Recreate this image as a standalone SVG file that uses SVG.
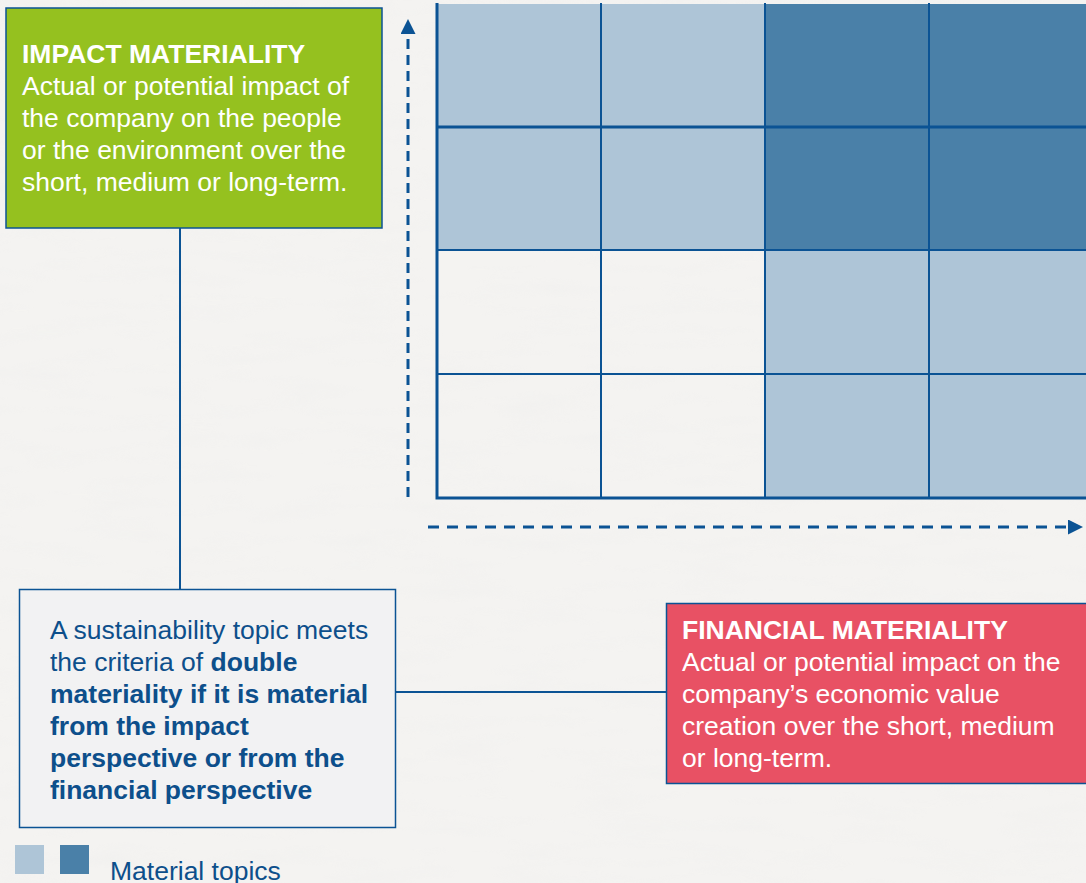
<svg xmlns="http://www.w3.org/2000/svg" width="1086" height="883" viewBox="0 0 1086 883">
<defs>
<style>
.t{font-family:"Liberation Sans",Arial,sans-serif;font-size:26.5px}
.w{fill:#ffffff}
.b{fill:#0d4f8b}
.bold{font-weight:bold}
.grid{stroke:#0b5394;fill:none}
.light{fill:#aec5d7}
.dark{fill:#4a80a8}
.conn{stroke:#0b5394;stroke-width:2;fill:none}
.dash{stroke:#0b5394;stroke-width:3;fill:none}
</style>
<marker id="ah" viewBox="0 0 10 10" refX="2" refY="5" markerWidth="15" markerHeight="15" orient="auto" markerUnits="userSpaceOnUse">
<path d="M0,0 L10,5 L0,10 z" fill="#0b5394"/>
</marker>
<filter id="paper" x="0" y="0" width="100%" height="100%">
<feTurbulence type="fractalNoise" baseFrequency="0.012 0.06" numOctaves="3" seed="4" result="n"/>
<feColorMatrix in="n" type="matrix" values="0 0 0 0 0.85  0 0 0 0 0.85  0 0 0 0 0.84  0 0 0 -1.4 0.75"/>
</filter>
</defs>
<rect width="1086" height="883" fill="#f4f3f1"/>
<rect width="1086" height="883" filter="url(#paper)" opacity="0.45"/>

<g id="matrix">
<rect class="light" x="437" y="4" width="328" height="246"/>
<rect class="dark" x="765" y="4" width="321" height="246"/>
<rect class="light" x="765" y="250" width="321" height="248"/>
<g class="grid" stroke-width="2">
<line x1="601" y1="3" x2="601" y2="498"/>
<line x1="765" y1="3" x2="765" y2="498"/>
<line x1="929" y1="3" x2="929" y2="498"/>
<line x1="437" y1="127" x2="1086" y2="127" stroke-width="3"/>
<line x1="437" y1="250" x2="1086" y2="250"/>
<line x1="437" y1="374" x2="1086" y2="374"/>
</g>
<path class="grid" stroke-width="3" d="M437,3 V498 H1086"/>
</g>

<g id="axes">
<line class="dash" x1="408" y1="497" x2="408" y2="31" stroke-dasharray="10 6" marker-end="url(#ah)"/>
<line class="dash" x1="428" y1="527" x2="1071" y2="527" stroke-dasharray="11 8" marker-end="url(#ah)"/>
</g>

<g id="connectors">
<line class="conn" x1="180" y1="228" x2="180" y2="590"/>
<line class="conn" x1="396" y1="692" x2="667" y2="692"/>
</g>

<g id="impact">
<rect x="6" y="8" width="376" height="220" fill="#95c11f" stroke="#0b5394" stroke-width="1.5"/>
<text class="t w bold" x="22" y="63">IMPACT MATERIALITY</text>
<text class="t w" x="22" y="95">Actual or potential impact of</text>
<text class="t w" x="22" y="127">the company on the people</text>
<text class="t w" x="22" y="159">or the environment over the</text>
<text class="t w" x="22" y="191">short, medium or long-term.</text>
</g>

<g id="double">
<rect x="19.5" y="589.5" width="376" height="238" fill="#f2f2f3" stroke="#0b5394" stroke-width="1.5"/>
<text class="t b" x="50" y="639">A sustainability topic meets</text>
<text class="t b" x="50" y="671">the criteria of <tspan class="bold">double</tspan></text>
<text class="t b bold" x="50" y="703">materiality if it is material</text>
<text class="t b bold" x="50" y="735">from the impact</text>
<text class="t b bold" x="50" y="767">perspective or from the</text>
<text class="t b bold" x="50" y="799">financial perspective</text>
</g>

<g id="financial">
<rect x="666.5" y="603.5" width="425" height="180" fill="#e85164" stroke="#0b5394" stroke-width="1.5"/>
<text class="t w bold" x="682" y="639">FINANCIAL MATERIALITY</text>
<text class="t w" x="682" y="671">Actual or potential impact on the</text>
<text class="t w" x="682" y="703">company’s economic value</text>
<text class="t w" x="682" y="735">creation over the short, medium</text>
<text class="t w" x="682" y="767">or long-term.</text>
</g>

<g id="legend">
<rect x="15" y="845" width="29" height="29" fill="#aec5d7"/>
<rect x="60" y="845" width="29" height="29" fill="#4a80a8"/>
<text class="t b" x="110" y="880">Material topics</text>
</g>
</svg>
